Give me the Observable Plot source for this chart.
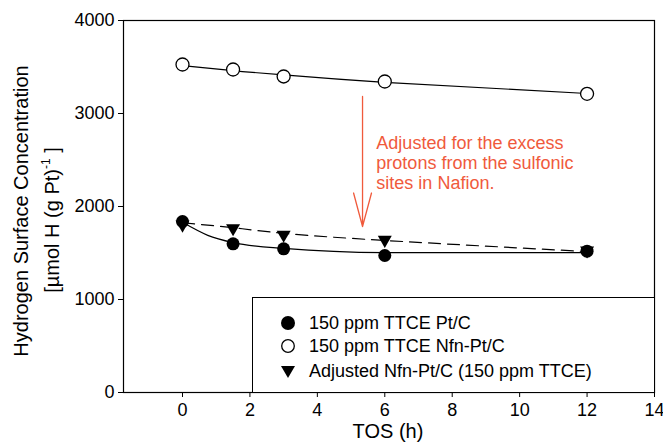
<!DOCTYPE html>
<html><head><meta charset="utf-8">
<script src="https://cdn.jsdelivr.net/npm/d3@7"></script>
<script src="https://cdn.jsdelivr.net/npm/@observablehq/plot@0.6"></script>
<style>
body{margin:0;background:#fff;font-family:"Liberation Sans",Arial,sans-serif;}
#wrap{position:relative;width:663px;height:445px;}
#legend{position:absolute;left:252px;top:297px;width:403px;height:96px;box-sizing:border-box;border:1px solid #000;background:#fff;}
.row{position:absolute;left:0;height:24px;display:flex;align-items:center;font-size:18px;color:#000;white-space:nowrap;}
.row svg{width:16px;height:16px;margin-left:27px;margin-right:13px;}
</style>
</head><body>
<div id="wrap"></div>
<script>
// ---- data ----
const tos = [0, 1.5, 3, 6, 12];
const ptc = [1839, 1599, 1545, 1473, 1520];          // 150 ppm TTCE Pt/C
const nfn = [3527, 3473, 3398, 3344, 3212];          // 150 ppm TTCE Nfn-Pt/C
const adj = [1806, 1767, 1696, 1642, 1527];          // Adjusted Nfn-Pt/C
// fitted curves
const ptcFitX = [0, 0.75, 1.5, 3, 6, 12];
const ptcFitY = [1830, 1690, 1612, 1550, 1505, 1503];
const nfnFitY = [3515, 3460, 3415, 3335, 3215];
const adjFitY = [1825, 1772, 1712, 1635, 1515];
const xTicks = [0, 2, 4, 6, 8, 10, 12, 14];
const yTicks = [0, 1000, 2000, 3000, 4000];
const legendLabels = ["150 ppm TTCE Pt/C", "150 ppm TTCE Nfn-Pt/C", "Adjusted Nfn-Pt/C (150 ppm TTCE)"];
const noteText = "Adjusted for the excess\nprotons from the sulfonic\nsites in Nafion.";
const arrowX = [5.34], arrowY1 = [3183], arrowY2 = [1785];
const noteX = [5.75], noteY = [2473];
const xTitle = "TOS (h)";
const yTitle1 = "Hydrogen Surface Concentration";

const red = "#f05a3c";
const pts = (ys, xs = tos) => xs.map((x, i) => ({x, y: ys[i]}));

const chart = Plot.plot({
  width: 663, height: 445,
  marginLeft: 123, marginRight: 9, marginTop: 20, marginBottom: 53,
  style: {fontFamily: "Liberation Sans, Arial, sans-serif", fontSize: "18px", color: "#000", background: "#fff", overflow: "visible"},
  x: {domain: [-1.75, 14], ticks: xTicks, tickSize: 5, tickPadding: 6, tickFormat: d => String(d), label: null},
  y: {domain: [0, 4000], ticks: yTicks, tickSize: 5, tickPadding: 4, tickFormat: d => String(d), label: null},
  marks: [
    Plot.frame({stroke: "#000", strokeWidth: 1.2}),
    Plot.line(pts(nfnFitY), {x: "x", y: "y", curve: "natural", stroke: "#000", strokeWidth: 1.2}),
    Plot.line(pts(ptcFitY, ptcFitX), {x: "x", y: "y", curve: "monotone-x", stroke: "#000", strokeWidth: 1.2}),
    Plot.line(pts(adjFitY), {x: "x", y: "y", curve: "natural", stroke: "#000", strokeWidth: 1.2, strokeDasharray: "12,7"}),
    Plot.dot(pts(adj), {x: "x", y: "y", symbol: "triangle", rotate: 180, r: 5.2, fill: "#000", stroke: "none"}),
    Plot.dot(pts(ptc), {x: "x", y: "y", r: 6.5, fill: "#000", stroke: "none"}),
    Plot.dot(pts(nfn), {x: "x", y: "y", r: 6.5, fill: "#fff", stroke: "#000", strokeWidth: 1.3}),
    Plot.arrow(arrowX.map((x, i) => ({x, y1: arrowY1[i], y2: arrowY2[i]})),
      {x: "x", y1: "y1", y2: "y2", stroke: red, strokeWidth: 1.3, headLength: 40, headAngle: 30}),
    Plot.text(noteX.map((x, i) => ({x, y: noteY[i]})),
      {x: "x", y: "y", text: () => noteText, textAnchor: "start", lineAnchor: "middle", lineHeight: 1.12, fill: red, fontSize: 18})
  ]
});

const wrap = document.getElementById("wrap");
wrap.appendChild(chart);

const svg = d3.select(chart);
const g = svg.append("g").attr("font-family", "Liberation Sans, Arial, sans-serif").attr("font-size", 20).attr("text-anchor", "middle").attr("fill", "#000");
g.append("text").attr("transform", "translate(21,211) rotate(-90)").attr("dy", "0.35em").text(yTitle1);
const t2 = g.append("text").attr("transform", "translate(52,220) rotate(-90)").attr("dy", "0.35em");
t2.append("tspan").text("[\u00b5mol H (g Pt)");
t2.append("tspan").attr("dy", -9).attr("font-size", 12).text("-1");
t2.append("tspan").attr("dy", 9).text(" ]");
g.append("text").attr("x", 388).attr("y", 431).attr("dy", "0.35em").text(xTitle);

// legend
const legend = document.createElement("div");
legend.id = "legend";
const syms = [
  '<svg viewBox="-8 -8 16 16"><circle r="7" fill="#000"/></svg>',
  '<svg viewBox="-8 -8 16 16"><circle r="6.3" fill="#fff" stroke="#000" stroke-width="1.3"/></svg>',
  '<svg viewBox="-8 -8 16 16"><path d="M-7,-5L7,-5L0,7Z" fill="#000"/></svg>'
];
const rowTops = [13, 36, 61];
legendLabels.forEach((lab, i) => {
  const r = document.createElement("div");
  r.className = "row";
  r.style.top = rowTops[i] + "px";
  r.innerHTML = syms[i] + "<span>" + lab + "</span>";
  legend.appendChild(r);
});
wrap.appendChild(legend);
</script>
</body></html>
